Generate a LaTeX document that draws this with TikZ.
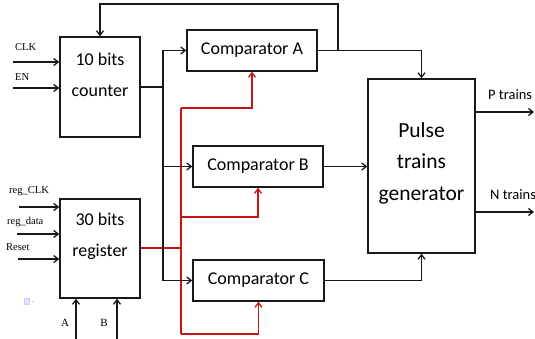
\documentclass[tikz,border=0pt]{standalone}
\usepackage{fontspec}
\setmainfont{Carlito}
\newfontfamily\tms{Liberation Serif}
\usetikzlibrary{arrows.meta,calc}
\definecolor{ln}{RGB}{25,25,25}
\definecolor{rd}{RGB}{200,20,20}
\tikzset{
  blk/.style={draw=ln,line width=1.5pt,rectangle,inner sep=0pt},
  arr/.style={-{Straight Barb[length=4.5pt,width=7pt,line width=1.3pt]}},
  wire/.style={draw=ln,line width=1.5pt},
  rwire/.style={draw=rd,line width=1.5pt},
  boxtxt/.style={font=\fontsize{18}{31}\selectfont,align=center,inner sep=0pt},
  bigtxt/.style={font=\fontsize{21.5}{31.5}\selectfont,align=center,inner sep=0pt},
  sig/.style={font=\tms\fontsize{10.5}{12}\selectfont,inner sep=0pt,anchor=west},
  outlbl/.style={font=\fontsize{14.5}{16}\selectfont,inner sep=0pt,anchor=west}
}
\begin{document}
\begin{tikzpicture}[x=1pt,y=-1pt]
\useasboundingbox (0,0) rectangle (535,339);
% blocks
\node[blk,minimum width=80pt,minimum height=100pt] (counter) at (100,87) {};
\node[boxtxt] (counterT) at (100,75) {10 bits\\counter};
\node[blk,minimum width=80pt,minimum height=99pt] (reg) at (100,248.5) {};
\node[boxtxt] (regT) at (100,236) {30 bits\\register};
\node[blk,minimum width=130pt,minimum height=41pt,font=\fontsize{18}{22}\selectfont] (compA) at (252,50.5) {Comparator A};
\node[blk,minimum width=130pt,minimum height=41pt,font=\fontsize{18}{22}\selectfont] (compB) at (258,166.5) {Comparator B};
\node[blk,minimum width=131pt,minimum height=41pt,font=\fontsize{18}{22}\selectfont] (compC) at (258.5,280.5) {Comparator C};
\node[blk,minimum width=107pt,minimum height=174pt] (pulse) at (421.5,166) {};
\node[bigtxt] (pulseT) at (421.5,163) {Pulse\\trains\\generator};
% red bus
\coordinate (rbus) at (181,248);
\coordinate (rtop) at (181,108);
\coordinate (rmid) at (181,217);
\coordinate (rbot) at (181,334);
\draw[rwire] (reg.east |- rbus) -- (rbus);
\draw[rwire] (rtop) -- (rbot);
\draw[rwire,arr] (rtop) -| (compA.south);
\draw[rwire,arr] (rmid) -| (compB.south);
\draw[rwire,arr] (rbot) -| (compC.south);
% black bus
\coordinate (bus) at (163,87);
\draw[wire] (counter.east |- bus) -- (bus);
\draw[wire,arr] (bus) |- (compA.west);
\draw[wire,arr] (bus) |- (compB.west);
\draw[wire,arr] (bus) |- (compC.west);
% feedback
\coordinate (fbA) at (338,50.5);
\coordinate (fbtop) at (338,4);
\draw[wire,arr] (fbA) -- (fbtop) -| (counter.north);
% comparators to pulse
\draw[wire,arr] (compA.east) -| (pulse.north);
\draw[wire,arr] (compB.east) -- (compB.east -| pulse.west);
\draw[wire,arr] (compC.east) -| (pulse.south);
% outputs
\coordinate (pout) at (534,112);
\coordinate (nout) at (534,212);
\draw[wire,arr] (pulse.east |- pout) -- (pout);
\draw[wire,arr] (pulse.east |- nout) -- (nout);
\node[outlbl] (plbl) at (488,95) {P trains};
\node[outlbl] (nlbl) at (490,195) {N trains};
% inputs
\coordinate (clkin) at (13,62);
\coordinate (enin) at (13,88);
\coordinate (rclkin) at (19,207);
\coordinate (rdatin) at (17,234);
\coordinate (rstin) at (18,259);
\draw[wire,arr] (clkin) -- (clkin -| counter.west);
\draw[wire,arr] (enin) -- (enin -| counter.west);
\draw[wire,arr] (rclkin) -- (rclkin -| reg.west);
\draw[wire,arr] (rdatin) -- (rdatin -| reg.west);
\draw[wire,arr] (rstin) -- (rstin -| reg.west);
\node[sig] (clkl) at (15,47) {CLK};
\node[sig] (enl) at (15,77) {EN};
\node[sig] (rclkl) at (9,191) {reg\_CLK};
\node[sig] (rdatl) at (7,222) {reg\_data};
\node[sig] (rstl) at (6,247) {Reset};
\coordinate (ain) at (76,339);
\coordinate (bin) at (117,339);
\draw[wire,arr] (ain) -- (ain |- reg.south);
\draw[wire,arr] (bin) -- (bin |- reg.south);
\node[font=\tms\fontsize{11}{12}\selectfont,inner sep=0pt] (al) at (65,323) {A};
\node[font=\tms\fontsize{11}{12}\selectfont,inner sep=0pt] (bl) at (104,323) {B};
% faint icon artifact
\node[fill=blue!12,draw=blue!20,line width=0.3pt,minimum width=5pt,minimum height=6pt,inner sep=0pt] (icon) at (27,301) {};
\draw[gray!40,line width=0.5pt] (icon.east) ++(2,0) -- ++(2,0);
\end{tikzpicture}
\end{document}
